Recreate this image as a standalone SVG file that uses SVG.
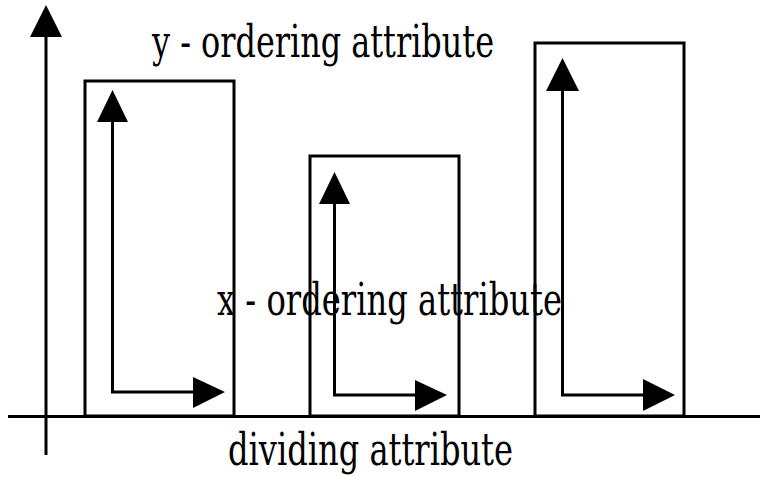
<svg xmlns="http://www.w3.org/2000/svg" width="768" height="477" viewBox="0 0 768 477">
<style>
.lbl{font-family:"DejaVu Serif Condensed","DejaVu Serif","Liberation Serif",serif;font-size:44px;fill:#000}
.box{fill:none;stroke:#000;stroke-width:3}
.ln{fill:none;stroke:#000;stroke-width:3}
.ah{fill:#000;stroke:none}
</style>
<rect width="768" height="477" fill="#fff"/>
<g id="labels">
<text class="lbl" x="152" y="57" textLength="342" lengthAdjust="spacingAndGlyphs">y - ordering attribute</text>
<text class="lbl" x="217" y="315" textLength="345" lengthAdjust="spacingAndGlyphs">x - ordering attribute</text>
<text class="lbl" x="228" y="465" textLength="285" lengthAdjust="spacingAndGlyphs">dividing attribute</text>
</g>
<g id="box1"><rect class="box" x="85" y="81" width="149" height="335"/></g>
<g id="box2"><rect class="box" x="310" y="156" width="149" height="260"/></g>
<g id="box3"><rect class="box" x="535" y="43" width="149" height="373"/></g>
<g id="connectors">
<line class="ln" x1="46" y1="455" x2="46" y2="36"/>
<polygon class="ah" points="46,5 30,37 62,37"/>
<line class="ln" x1="8" y1="416.5" x2="760" y2="416.5"/>
<polyline class="ln" points="112.5,120 112.5,392 195,392"/>
<polygon class="ah" points="112.5,90 97,122 128,122"/>
<polygon class="ah" points="225,392 193,377 193,408"/>
<polyline class="ln" points="334.5,202 334.5,395 417,395"/>
<polygon class="ah" points="334.5,172 319,204 350,204"/>
<polygon class="ah" points="447,395 415,380 415,411"/>
<polyline class="ln" points="562.5,89 562.5,395 645,395"/>
<polygon class="ah" points="562.5,58 546,91 579,91"/>
<polygon class="ah" points="675,395 643,379 643,411"/>
</g>
</svg>
